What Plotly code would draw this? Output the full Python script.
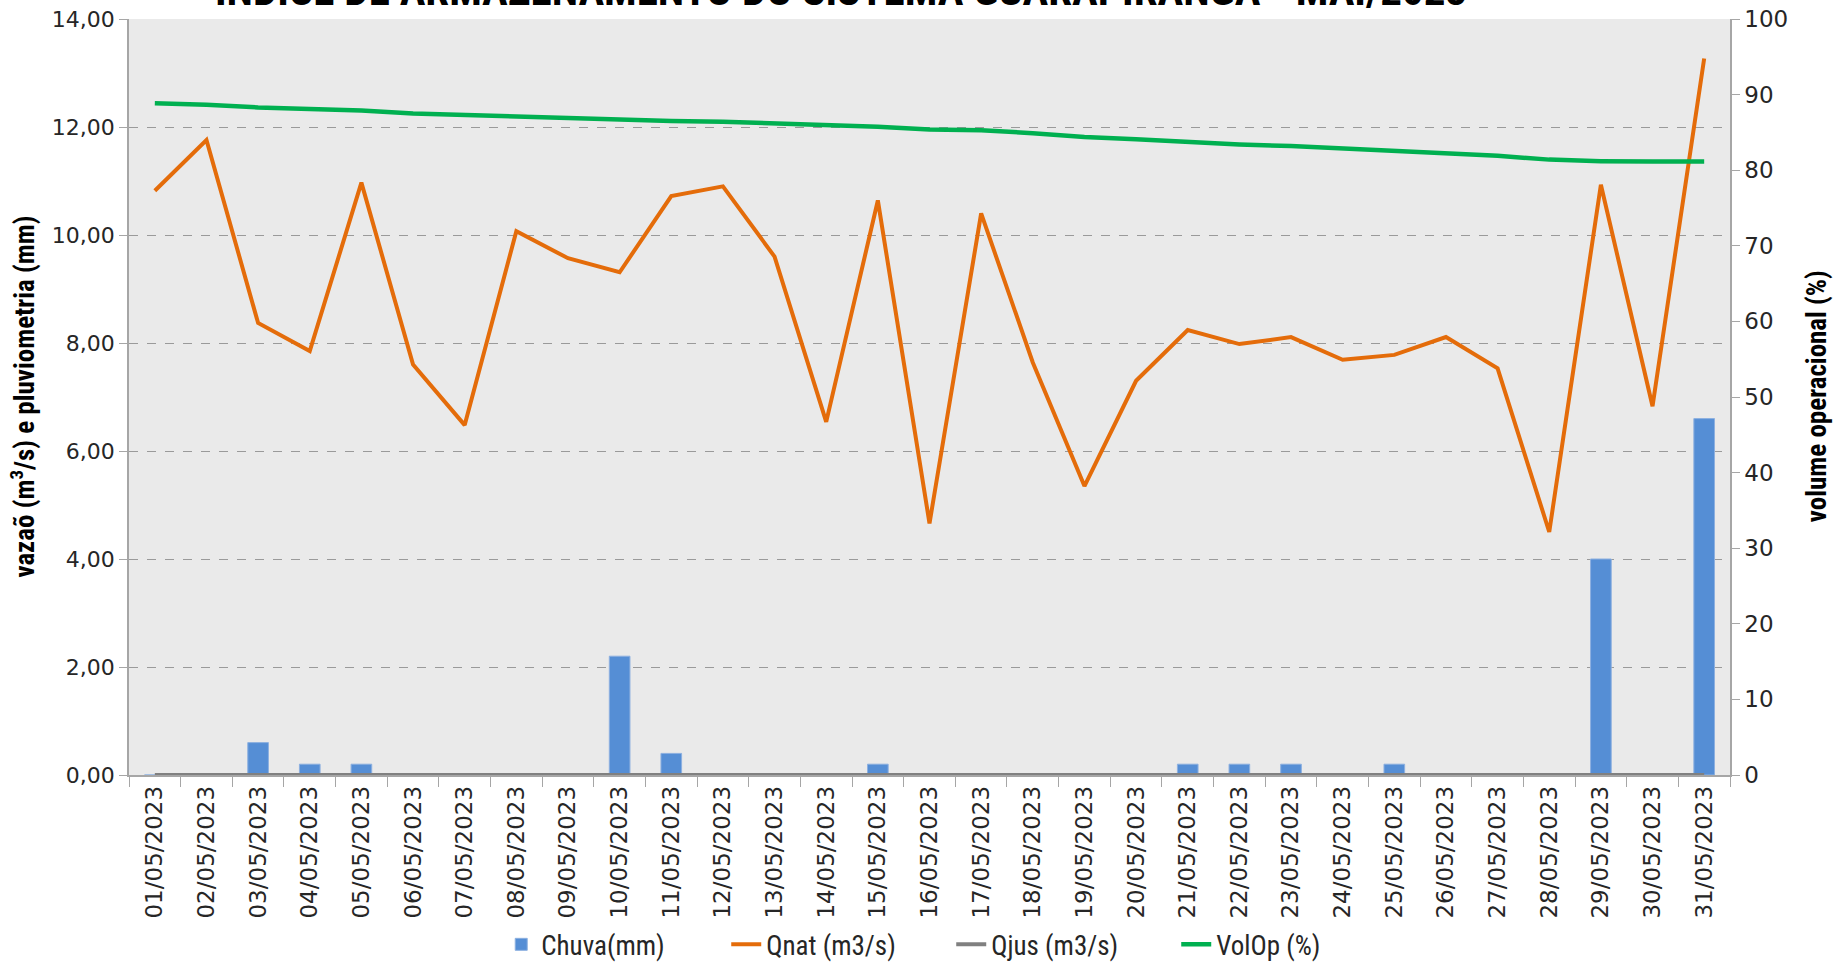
import plotly.graph_objects as go

dates = ["01/05/2023", "02/05/2023", "03/05/2023", "04/05/2023", "05/05/2023",
         "06/05/2023", "07/05/2023", "08/05/2023", "09/05/2023", "10/05/2023",
         "11/05/2023", "12/05/2023", "13/05/2023", "14/05/2023", "15/05/2023",
         "16/05/2023", "17/05/2023", "18/05/2023", "19/05/2023", "20/05/2023",
         "21/05/2023", "22/05/2023", "23/05/2023", "24/05/2023", "25/05/2023",
         "26/05/2023", "27/05/2023", "28/05/2023", "29/05/2023", "30/05/2023",
         "31/05/2023"]

chuva = [0, 0, 0.6, 0.2, 0.2, 0, 0, 0, 0, 2.2,
         0.4, 0, 0, 0, 0.2, 0, 0, 0, 0, 0,
         0.2, 0.2, 0.2, 0, 0.2, 0, 0, 0, 4.0, 0,
         6.6]

qnat = [10.82, 11.76, 8.37, 7.85, 10.97, 7.60, 6.48, 10.07, 9.57, 9.31,
        10.72, 10.90, 9.60, 6.54, 10.64, 4.66, 10.40, 7.64, 5.35, 7.30,
        8.24, 7.98, 8.11, 7.69, 7.78, 8.11, 7.53, 4.50, 10.93, 6.83,
        13.27]

qjus = [0] * 31

volop = [88.85, 88.67, 88.3, 88.1, 87.9, 87.5, 87.3, 87.1, 86.8, 86.7,
         86.5, 86.4, 86.2, 85.9, 85.75, 85.4, 85.3, 84.9, 84.4, 84.1,
         83.7, 83.4, 83.2, 82.9, 82.6, 82.3, 81.9, 81.4, 81.2, 81.15,
         81.15]

title_text = "ÍNDICE DE ARMAZENAMENTO DO SISTEMA GUARAPIRANGA - MAI/2023"
y_title_left = "vazaõ (m<sup>3</sup>/s) e pluviometria (mm)"
y_title_right = "volume operacional (%)"

NARROW = "Liberation Sans Narrow, Arial Narrow, Roboto Condensed, sans-serif"
WIDE = "DejaVu Sans, Verdana, sans-serif"
AXIS_GRAY = "#A6A6A6"

fig = go.Figure()
fig.add_bar(x=dates, y=chuva, name="Chuva(mm)", width=0.4,
            marker=dict(color="#558ED5", line=dict(color="#8DB0E0", width=1)))
fig.add_scatter(x=dates, y=qnat, mode="lines", name="Qnat (m3/s)",
                line=dict(color="#E46C0A", width=4))
fig.add_scatter(x=dates, y=qjus, mode="lines", name="Qjus (m3/s)",
                line=dict(color="#808080", width=4))
fig.add_scatter(x=dates, y=volop, mode="lines", name="VolOp (%)", yaxis="y2",
                line=dict(color="#00B050", width=4.5))

fig.update_layout(
    width=1835, height=970,
    margin=dict(l=129, r=105, t=19, b=195, autoexpand=False),
    paper_bgcolor="white",
    plot_bgcolor="#EAEAEA",
    separators=",.",
    showlegend=True,
    xaxis=dict(
        type="category",
        range=[-0.5, 30.5],
        automargin=False,
        tickangle=-90,
        tickson="boundaries",
        ticks="outside", ticklen=10, tickcolor=AXIS_GRAY, tickwidth=1,
        showline=True, linecolor=AXIS_GRAY, linewidth=1.5,
        showgrid=False,
        ticklabeloverflow="allow",
        tickfont=dict(family=WIDE, size=23, color="#262626"),
    ),
    yaxis=dict(
        range=[0, 14], dtick=2, tickformat=".2f",
        automargin=False,
        ticks="outside", ticklen=8, tickcolor=AXIS_GRAY,
        showline=True, linecolor=AXIS_GRAY, linewidth=1.5,
        showgrid=True, gridcolor="#9A9A9A", griddash="dash", gridwidth=1,
        zeroline=False,
        ticklabeloverflow="allow",
        tickfont=dict(family=WIDE, size=22, color="#262626"),
    ),
    yaxis2=dict(
        overlaying="y", side="right",
        range=[0, 100], dtick=10,
        automargin=False,
        ticks="outside", ticklen=8, tickcolor=AXIS_GRAY,
        showline=True, linecolor=AXIS_GRAY, linewidth=1.5,
        showgrid=False, zeroline=False,
        ticklabeloverflow="allow",
        tickfont=dict(family=WIDE, size=23, color="#262626"),
    ),
    legend=dict(
        orientation="h",
        x=0.2325, xanchor="left",
        y=-0.257, yanchor="bottom",
        font=dict(family=NARROW, size=27, color="#262626"),
        entrywidth=180, entrywidthmode="pixels",
        bgcolor="rgba(0,0,0,0)",
    ),
    annotations=[
        dict(text="<b>" + title_text + "</b>",
             xref="paper", yref="paper", x=0.4447, y=1,
             xanchor="center", yanchor="bottom", yshift=2,
             showarrow=False,
             font=dict(family=NARROW, size=43, color="#000000")),
        dict(text="<b>" + y_title_left + "</b>",
             xref="paper", yref="paper", x=-0.0665, y=0.5,
             xanchor="center", yanchor="middle", textangle=-90,
             showarrow=False,
             font=dict(family=NARROW, size=27, color="#000000")),
        dict(text="<b>" + y_title_right + "</b>",
             xref="paper", yref="paper", x=1.0543, y=0.501,
             xanchor="center", yanchor="middle", textangle=-90,
             showarrow=False,
             font=dict(family=NARROW, size=27, color="#000000")),
    ],
)

fig.write_html("out.html",
               config={"displayModeBar": False},
               post_script="document.body.style.margin='0';"
                           "document.body.style.overflow='hidden';")
